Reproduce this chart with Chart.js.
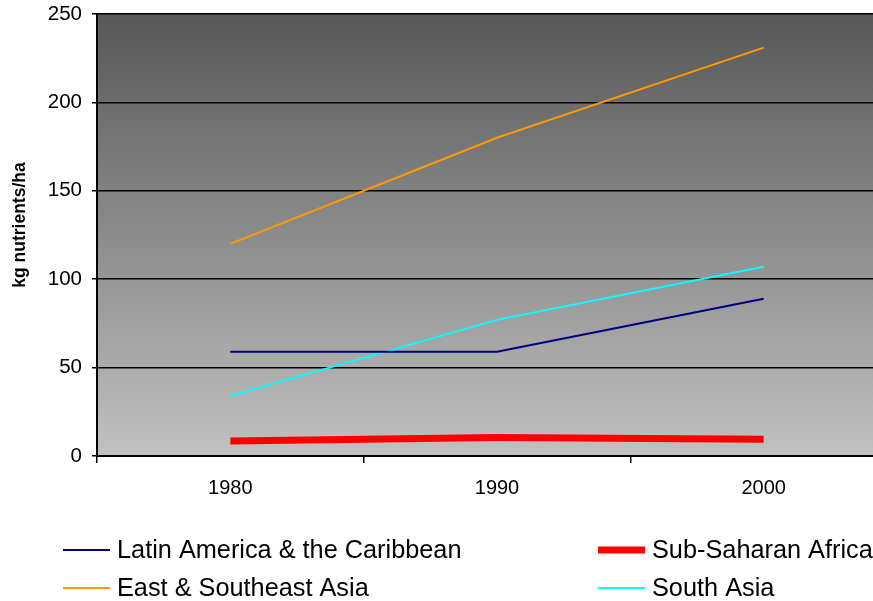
<!DOCTYPE html>
<html>
<head>
<meta charset="utf-8">
<script src="https://cdn.jsdelivr.net/npm/chart.js@4.4.1/dist/chart.umd.min.js"></script>
<style>
  html, body { margin: 0; padding: 0; background: #fff; overflow: hidden; }
  #wrap { position: relative; width: 900px; height: 601px; }
</style>
</head>
<body>
<div id="wrap"><canvas id="fertChart" width="900" height="601"></canvas></div>
<script>
// --- Data ---
const years = ['1980', '1990', '2000'];
const latinAmerica = [59, 59, 89];
const subSaharanAfrica = [8.5, 10.5, 9.5];
const eastSoutheastAsia = [120, 180, 231];
const southAsia = [34, 77, 107];
const seriesNames = ['Latin America & the Caribbean', 'Sub-Saharan Africa', 'East & Southeast Asia', 'South Asia'];
const yAxisTitle = 'kg nutrients/ha';

const FONT = 'Arial, "Liberation Sans", sans-serif';
Chart.defaults.font.family = FONT;
Chart.defaults.color = '#000';

// gray gradient behind the plot
const plotBackground = {
    id: 'plotBackground',
    beforeDraw(chart) {
        const { ctx, chartArea: a } = chart;
        const g = ctx.createLinearGradient(0, a.top, 0, a.bottom);
        g.addColorStop(0, '#575757');
        g.addColorStop(1, '#c1c1c1');
        ctx.save();
        ctx.fillStyle = g;
        ctx.fillRect(a.left, a.top, a.right - a.left, a.bottom - a.top);
        ctx.restore();
    }
};

// y title (sits a bit above the plot's middle in the original)
const sideTitle = {
    id: 'sideTitle',
    afterDraw(chart) {
        const ctx = chart.ctx;
        ctx.save();
        ctx.translate(20, 225);
        ctx.rotate(-Math.PI / 2);
        ctx.font = 'bold 17.5px ' + FONT;
        ctx.textAlign = 'center';
        ctx.textBaseline = 'middle';
        ctx.fillStyle = '#000';
        ctx.fillText(yAxisTitle, 0, 0);
        ctx.restore();
    }
};

// two-column legend under the chart
const gridLegend = {
    id: 'gridLegend',
    afterDraw(chart) {
        const ctx = chart.ctx;
        const cols = [63, 598];
        const rows = [550, 588];
        ctx.save();
        ctx.font = '25.3px ' + FONT;
        ctx.textBaseline = 'middle';
        ctx.fillStyle = '#000';
        chart.data.datasets.forEach((ds, i) => {
            const x = cols[i % 2];
            const y = rows[Math.floor(i / 2)];
            ctx.strokeStyle = ds.borderColor;
            ctx.lineWidth = ds.borderWidth;
            ctx.beginPath();
            ctx.moveTo(x, y);
            ctx.lineTo(x + 47, y);
            ctx.stroke();
            ctx.fillText(ds.label, x + 54, y + 1);
        });
        ctx.restore();
    }
};

const ctx = document.getElementById('fertChart').getContext('2d');
new Chart(ctx, {
    type: 'line',
    data: {
        labels: years,
        datasets: [
            { label: seriesNames[0], data: latinAmerica, borderColor: '#000080', borderWidth: 2 },
            { label: seriesNames[1], data: subSaharanAfrica, borderColor: '#ff0000', borderWidth: 7 },
            { label: seriesNames[2], data: eastSoutheastAsia, borderColor: '#ff9900', borderWidth: 2 },
            { label: seriesNames[3], data: southAsia, borderColor: '#00ffff', borderWidth: 2 }
        ]
    },
    options: {
        responsive: false,
        animation: false,
        devicePixelRatio: 1,
        elements: {
            point: { radius: 0 },
            line: { tension: 0, borderCapStyle: 'butt' }
        },
        layout: { padding: { top: 14, right: 3, left: 0, bottom: 0 } },
        plugins: {
            legend: { display: false },
            tooltip: { enabled: false }
        },
        scales: {
            x: {
                offset: true,
                grid: {
                    offset: true,
                    drawOnChartArea: false,
                    color: '#000',
                    lineWidth: 1.5,
                    tickLength: 7
                },
                border: { color: '#000', width: 2 },
                ticks: { font: { size: 20 }, padding: 13, maxRotation: 0 },
                afterFit(scale) {
                    scale.height = 145;
                    scale.paddingLeft = 0;
                    scale.paddingRight = 0;
                }
            },
            y: {
                min: 0,
                max: 250,
                ticks: { stepSize: 50, font: { size: 20.5 }, padding: 10 },
                grid: { color: '#000', lineWidth: 1.5, tickLength: 5 },
                border: { color: '#000', width: 2 },
                afterFit(scale) {
                    scale.width = 97;
                    scale.paddingTop = 0;
                    scale.paddingBottom = 0;
                }
            }
        }
    },
    plugins: [plotBackground, sideTitle, gridLegend]
});
</script>
</body>
</html>
